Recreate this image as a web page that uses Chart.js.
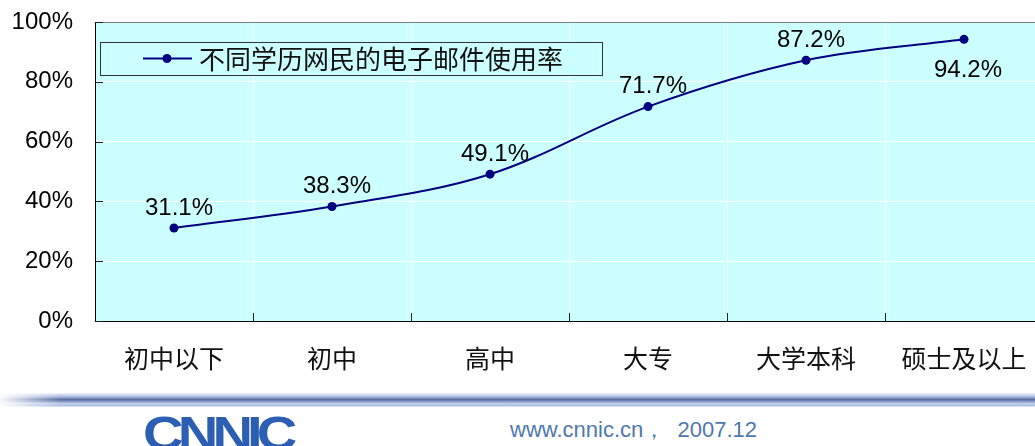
<!DOCTYPE html>
<html>
<head>
<meta charset="utf-8">
<script src="https://cdn.jsdelivr.net/npm/chart.js@4/dist/chart.umd.min.js"></script>
<style>
  html, body { margin:0; padding:0; width:1035px; height:446px; overflow:hidden; background:#fff; }
  #c { position:absolute; left:0; top:0; }
  #band { position:absolute; left:0; top:393px; width:1035px; height:14px;
    background: linear-gradient(to bottom, #eef2f9 0%, #c9d5ec 15%, #9fb2da 30%, #5a6f9e 45%, #7f95c4 60%, #c3d0ea 75%, #a9bce0 88%, #e8eef8 100%); }
  #bandfade { position:absolute; left:0; top:393px; width:60px; height:14px;
    background: linear-gradient(to right, rgba(255,255,255,0.95), rgba(255,255,255,0)); }
  #logo { position:absolute; left:143px; top:410px; font-family:"Liberation Sans", Arial, sans-serif;
    font-weight:bold; font-size:48px; letter-spacing:-5px; color:#2c5fb3; line-height:48px; transform:scaleX(1.17); transform-origin:left top; }
  #foot { position:absolute; left:510px; top:418px; font-family:"Liberation Sans", Arial, sans-serif;
    font-size:22px; color:#4f78b0; line-height:24px; white-space:pre; }
</style>
</head>
<body>
<canvas id="c" width="1043" height="385"></canvas>
<div id="band"></div>
<div id="bandfade"></div>
<div id="logo">CNNIC</div>
<div id="foot">www.cnnic.cn，  2007.12</div>
<script>
const categories = ['初中以下', '初中', '高中', '大专', '大学本科', '硕士及以上'];
const emailRates = [31.1, 38.3, 49.1, 71.7, 87.2, 94.2];
const yTickValues = [0, 20, 40, 60, 80, 100];
const seriesLabel = '不同学历网民的电子邮件使用率';

const NAVY = '#000080';
const PLOT_BG = '#CCFFFF';
const LATIN = '"Liberation Sans", Arial, sans-serif';
const CJK = '"Noto Sans CJK SC", sans-serif';

const bgPlugin = {
  id: 'plotBg',
  beforeDraw(chart) {
    const { ctx, chartArea: a } = chart;
    ctx.save();
    ctx.fillStyle = PLOT_BG;
    ctx.fillRect(a.left, a.top, a.right - a.left, a.bottom - a.top);
    ctx.restore();
  },
  afterDatasetsDraw(chart) {
    const { ctx, chartArea: a, scales } = chart;
    ctx.save();
    ctx.strokeStyle = '#808080';
    ctx.lineWidth = 1;
    ctx.beginPath(); ctx.moveTo(a.left, a.top + 0.5); ctx.lineTo(a.right, a.top + 0.5); ctx.stroke();
    ctx.strokeStyle = '#222';
    const ys = scales.y;
    yTickValues.forEach(v => {
      const y = Math.round(ys.getPixelForValue(v)) + 0.5;
      ctx.beginPath(); ctx.moveTo(a.left, y); ctx.lineTo(a.left + 8, y); ctx.stroke();
    });
    const xs = scales.x;
    for (let i = 1; i < categories.length; i++) {
      const x = Math.round((xs.getPixelForValue(i - 1) + xs.getPixelForValue(i)) / 2) + 0.5;
      ctx.beginPath(); ctx.moveTo(x, a.bottom); ctx.lineTo(x, a.bottom - 8); ctx.stroke();
    }
    const lx = 100, ly = 42, lw = 502, lh = 33;
    ctx.fillStyle = PLOT_BG;
    ctx.fillRect(lx, ly, lw, lh);
    ctx.strokeStyle = '#333';
    ctx.strokeRect(lx + 0.5, ly + 0.5, lw, lh);
    const ds = chart.data.datasets[0];
    ctx.strokeStyle = NAVY; ctx.lineWidth = 2;
    ctx.beginPath(); ctx.moveTo(143, 58.5); ctx.lineTo(192, 58.5); ctx.stroke();
    ctx.fillStyle = NAVY;
    ctx.beginPath(); ctx.arc(167, 58.5, 4.5, 0, Math.PI * 2); ctx.fill();
    ctx.fillStyle = '#111';
    ctx.font = '26px ' + CJK;
    ctx.textBaseline = 'middle';
    ctx.textAlign = 'left';
    ctx.fillText(ds.label, 199, 59);
    ctx.font = '24px ' + LATIN;
    ctx.textAlign = 'center';
    ctx.fillStyle = '#000';
    const meta = chart.getDatasetMeta(0);
    meta.data.forEach((pt, i) => {
      const last = i === meta.data.length - 1;
      const dy = last ? 31 : -20;
      const dx = last ? 4 : 5;
      ctx.fillText(ds.data[i].toFixed(1) + '%', pt.x + dx, pt.y + dy);
    });
    ctx.restore();
  }
};

new Chart(document.getElementById('c'), {
  type: 'line',
  data: {
    labels: categories,
    datasets: [{
      label: seriesLabel,
      data: emailRates,
      borderColor: NAVY,
      backgroundColor: NAVY,
      borderWidth: 2,
      pointRadius: 4.5,
      pointBackgroundColor: NAVY,
      pointBorderWidth: 0,
      tension: 0.35,
      fill: false
    }]
  },
  options: {
    responsive: false,
    maintainAspectRatio: false,
    animation: false,
    devicePixelRatio: 1,
    layout: { autoPadding: false, padding: { top: 22, right: 0, bottom: 0, left: 0 } },
    plugins: { legend: { display: false }, tooltip: { enabled: false } },
    scales: {
      x: {
        type: 'category',
        offset: true,
        afterFit(scale) { scale.height = 64; scale.paddingRight = 0; scale.paddingLeft = 0; },
        grid: { offset: true, color: '#ffffff', lineWidth: 1, drawTicks: false },
        border: { color: '#000', width: 1 },
        ticks: { color: '#111', font: { family: CJK, size: 25 }, padding: 22, maxRotation: 0, autoSkip: false }
      },
      y: {
        min: 0, max: 100,
        afterFit(scale) { scale.width = 95; scale.paddingTop = 0; scale.paddingBottom = 0; },
        afterBuildTicks(scale) { scale.ticks = yTickValues.map(v => ({ value: v })); },
        grid: { color: '#ffffff', lineWidth: 1, drawTicks: false },
        border: { color: '#000', width: 1 },
        ticks: { color: '#000', font: { family: LATIN, size: 24 }, padding: 22, callback: v => v + '%' }
      }
    }
  },
  plugins: [bgPlugin]
});
</script>
</body>
</html>
